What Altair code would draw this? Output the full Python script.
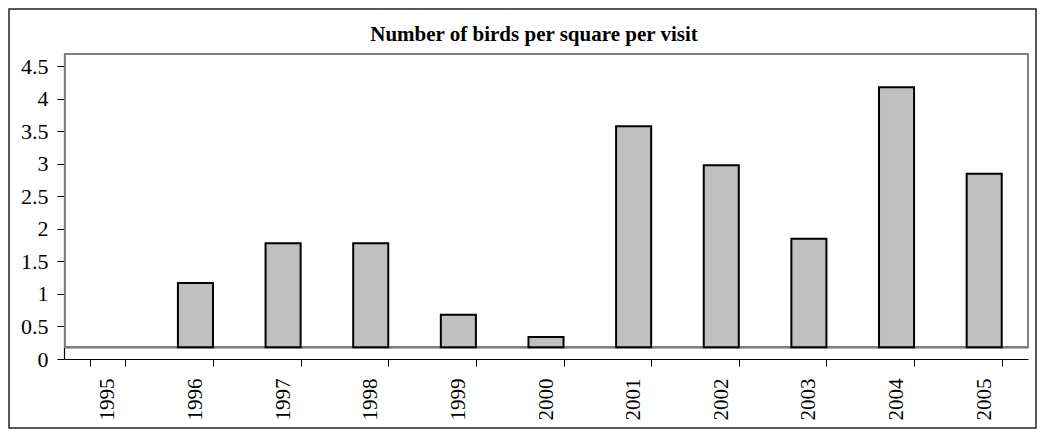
import altair as alt
import pandas as pd

years = ["1995", "1996", "1997", "1998", "1999", "2000",
         "2001", "2002", "2003", "2004", "2005"]
values = [None, 1.17, 1.78, 1.78, 0.68, 0.34, 3.58, 2.98, 1.85, 4.18, 2.85]
floor_value = 0.18
y_ticks = [0, 0.5, 1, 1.5, 2, 2.5, 3, 3.5, 4, 4.5]
title_text = "Number of birds per square per visit"

Y_MAX = 4.6923
W, H = 964, 305
SERIF = "Liberation Serif"

df = pd.DataFrame({"year": years, "value": values})
one = pd.DataFrame({"k": [0]})

y_scale = alt.Scale(domain=[0, Y_MAX], nice=False, zero=True)

x_enc = alt.X(
    "year:N",
    sort=None,
    scale=alt.Scale(domain=years, paddingInner=0.6, paddingOuter=0.3),
    axis=alt.Axis(
        title=None,
        labelAngle=270,
        labelAlign="right",
        labelBaseline="middle",
        labelFont=SERIF,
        labelFontSize=21,
        labelColor="#000000",
        labelPadding=12,
        labelOverlap=False,
        tickBand="extent",
        tickSize=7,
        tickColor="#000000",
        domainColor="#000000",
        domainWidth=1.2,
        grid=False,
    ),
)

def y_axis():
    return alt.Axis(
        title=None,
        values=y_ticks,
        labelExpr="format(datum.value, '.1~f')",
        labelFont=SERIF,
        labelFontSize=22,
        labelColor="#000000",
        labelPadding=9,
        labelOverlap=False,
        labelFlush=False,
        tickSize=7,
        tickColor="#000000",
        domainColor="#000000",
        domainWidth=1.2,
        grid=False,
    )

# plot-area box (grey) above the floor
box = alt.Chart(one).mark_rect(filled=False, stroke="#808080", strokeWidth=2).encode(
    x=alt.value(1),
    x2=alt.value(W),
    y=alt.Y(datum=Y_MAX, type="quantitative", scale=y_scale, axis=y_axis()),
    y2=alt.Y2(datum=floor_value),
)

floor = alt.Chart(one).mark_rule(color="#808080", strokeWidth=2.5).encode(
    x=alt.value(1),
    x2=alt.value(W),
    y=alt.Y(datum=floor_value, type="quantitative", scale=y_scale, axis=y_axis()),
)

bars = alt.Chart(df).mark_bar(
    fill="#c0c0c0", stroke="#000000", strokeWidth=2
).encode(
    x=x_enc,
    y=alt.Y("value:Q", scale=y_scale, axis=y_axis()),
    y2=alt.Y2(datum=floor_value),
)

border = alt.Chart(one).mark_rect(filled=False, stroke="#222222", strokeWidth=1.5).encode(
    x=alt.value(-55),
    x2=alt.value(972),
    y=alt.value(-45),
    y2=alt.value(374),
)

title = alt.Chart(one).mark_text(
    text=title_text,
    font=SERIF,
    fontSize=21,
    fontWeight="bold",
    color="#000000",
    align="center",
    baseline="alphabetic",
).encode(
    x=alt.value(470),
    y=alt.value(-13),
)

chart = alt.layer(box, floor, bars, border, title).properties(
    width=W,
    height=H,
    autosize=alt.AutoSizeParams(type="none"),
    padding={"left": 56, "top": 46, "right": 9, "bottom": 70},
    background="white",
).configure_view(stroke=None)

chart.save("out.html", embed_options={"renderer": "svg", "actions": False})
